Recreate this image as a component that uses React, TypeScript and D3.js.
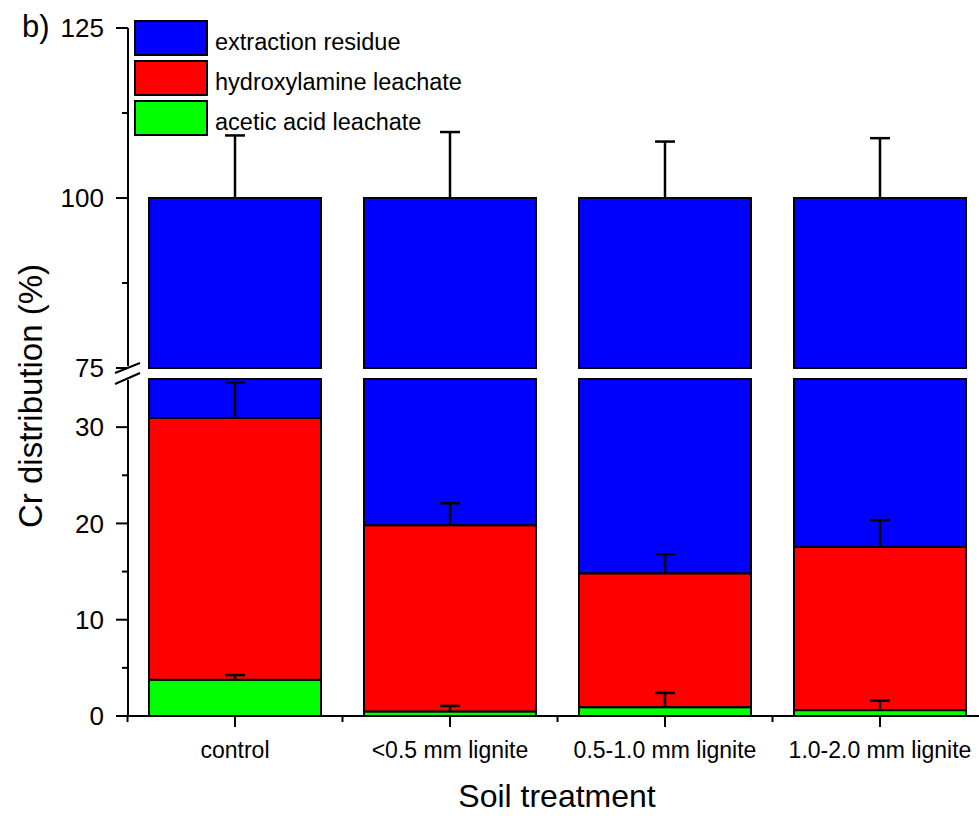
import React from "react";
import * as d3 from "d3";

const categories = ["control", "<0.5 mm lignite", "0.5-1.0 mm lignite", "1.0-2.0 mm lignite"];
const acetic = [3.75, 0.45, 0.9, 0.6];
const aceticErr = [0.5, 0.6, 1.5, 1.0];
const hydroxyl = [27.2, 19.35, 13.9, 16.95];
const hydroxylErr = [3.7, 2.3, 2.0, 2.8];
const residueErr = [9.2, 9.7, 8.3, 8.8];
const lowerTicks = [0, 10, 20, 30];
const upperTicks = [75, 100, 125];
const series = [
  { name: "extraction residue", color: "#0000ff" },
  { name: "hydroxylamine leachate", color: "#ff0000" },
  { name: "acetic acid leachate", color: "#00ff00" },
];

const W = 979;
const H = 816;
const axisX = 128;
const font = "Arial, 'Liberation Sans', Helvetica, sans-serif";

export default function App() {
  const x = d3.scaleBand().domain(categories).range([127.5, 127.5 + 215 * 4]).paddingInner(0.2).paddingOuter(0.1);
  const yLow = d3.scaleLinear().domain([0, 35]).range([716, 379]);
  const yUp = d3.scaleLinear().domain([75, 125]).range([368, 28]);
  const bw = x.bandwidth();

  // value -> y in the broken axis
  const yv = (v: number) => (v <= 35 ? yLow(v) : yUp(v));

  const errBar = (cx: number, v: number, e: number, key: string) => (
    <g key={key} stroke="#000" strokeWidth={2.5}>
      <line x1={cx} x2={cx} y1={yv(v)} y2={yv(v + e)} />
      <line x1={cx - 10} x2={cx + 10} y1={yv(v + e)} y2={yv(v + e)} />
    </g>
  );

  return (
    <svg width={W} height={H} style={{ position: "absolute", left: 0, top: 0 }} fontFamily={font}>
      <rect width={W} height={H} fill="#fff" />
      {categories.map((c, i) => {
        const x0 = x(c)!;
        const cx = x0 + bw / 2;
        const a = acetic[i];
        const h = a + hydroxyl[i];
        return (
          <g key={c} stroke="#000" strokeWidth={2}>
            {/* upper segment: residue 75-100 */}
            <rect x={x0} y={yUp(100)} width={bw} height={yUp(75) - yUp(100)} fill={series[0].color} />
            {/* lower segment */}
            <rect x={x0} y={yLow(35)} width={bw} height={yLow(h) - yLow(35)} fill={series[0].color} />
            <rect x={x0} y={yLow(h)} width={bw} height={yLow(a) - yLow(h)} fill={series[1].color} />
            <rect x={x0} y={yLow(a)} width={bw} height={yLow(0) - yLow(a)} fill={series[2].color} />
            {errBar(cx, 100, residueErr[i], "r")}
            {errBar(cx, h, hydroxylErr[i], "h")}
            {errBar(cx, a, aceticErr[i], "a")}
            {/* x tick */}
            <line x1={cx} x2={cx} y1={716} y2={727} />
            <line x1={cx - 107.5} x2={cx - 107.5} y1={716} y2={722} />
          </g>
        );
      })}
      {/* white gap across the break */}
      <rect x={axisX + 1} y={369} width={W} height={9} fill="#fff" />
      {/* x axis */}
      <line x1={axisX} x2={W} y1={716} y2={716} stroke="#000" strokeWidth={2} />
      {/* y axis with break */}
      <line x1={axisX} x2={axisX} y1={yUp(125)} y2={366} stroke="#000" strokeWidth={2} />
      <line x1={axisX} x2={axisX} y1={380} y2={717} stroke="#000" strokeWidth={2} />
      <line x1={115} x2={140} y1={373} y2={363} stroke="#000" strokeWidth={2} />
      <line x1={115} x2={140} y1={384} y2={373} stroke="#000" strokeWidth={2} />
      {lowerTicks.map((t) => (
        <g key={"l" + t}>
          <line x1={axisX - 12} x2={axisX} y1={yLow(t)} y2={yLow(t)} stroke="#000" strokeWidth={2} />
          <text x={104} y={yLow(t)} dy="0.35em" fontSize={26} textAnchor="end">{t}</text>
        </g>
      ))}
      {[5, 15, 25].map((t) => (
        <line key={"lm" + t} x1={axisX - 6} x2={axisX} y1={yLow(t)} y2={yLow(t)} stroke="#000" strokeWidth={2} />
      ))}
      {upperTicks.map((t) => (
        <g key={"u" + t}>
          <line x1={axisX - 12} x2={axisX} y1={yUp(t)} y2={yUp(t)} stroke="#000" strokeWidth={2} />
          <text x={104} y={yUp(t)} dy="0.35em" fontSize={26} textAnchor="end">{t}</text>
        </g>
      ))}
      {[87.5, 112.5].map((t) => (
        <line key={"um" + t} x1={axisX - 6} x2={axisX} y1={yUp(t)} y2={yUp(t)} stroke="#000" strokeWidth={2} />
      ))}
      {/* category labels */}
      {categories.map((c) => (
        <text key={"t" + c} x={x(c)! + bw / 2} y={758} fontSize={23} textAnchor="middle">{c}</text>
      ))}
      {/* legend */}
      {series.map((s, i) => (
        <g key={s.name}>
          <rect x={135} y={21 + i * 40} width={72} height={34} fill={s.color} stroke="#000" strokeWidth={2} />
          <text x={215} y={40 + i * 40 + 2} dy="0.35em" fontSize={23.5}>{s.name}</text>
        </g>
      ))}
      <text x={22} y={37} fontSize={31}>b)</text>
      <text transform={`translate(30,396) rotate(-90)`} fontSize={33} textAnchor="middle" dy="0.35em">Cr distribution (%)</text>
      <text x={557} y={807} fontSize={32} textAnchor="middle">Soil treatment</text>
    </svg>
  );
}
